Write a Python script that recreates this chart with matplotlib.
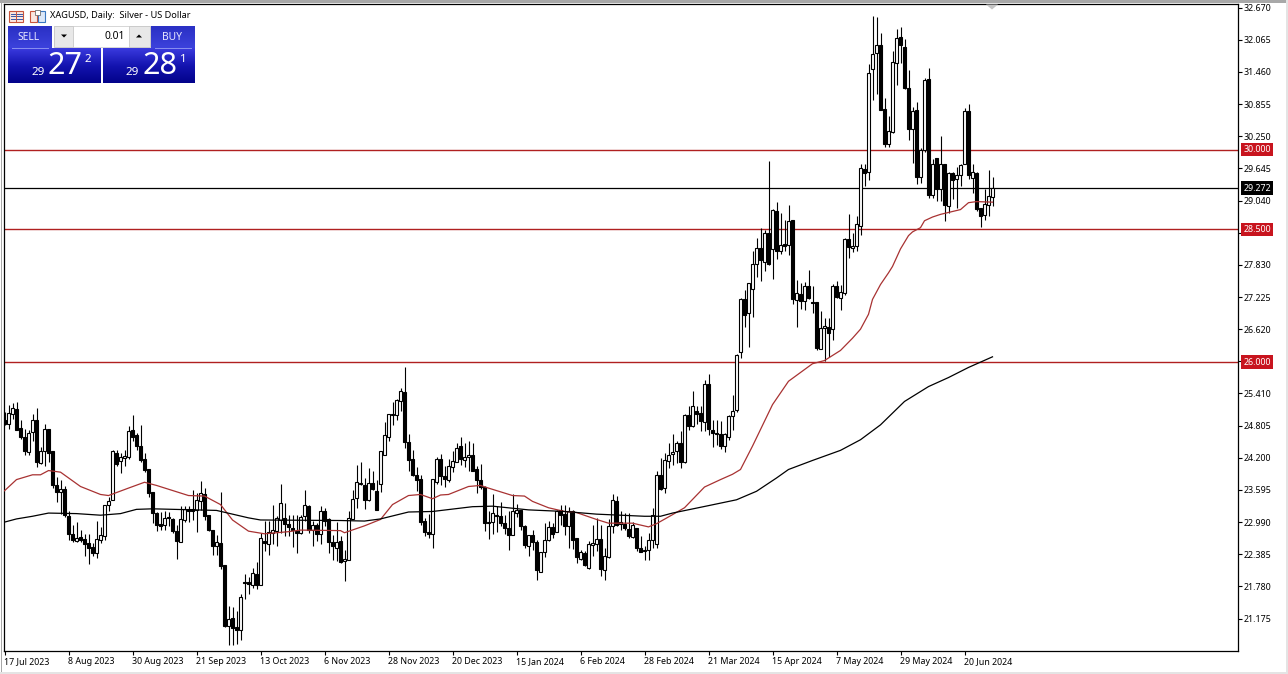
import numpy as np
import matplotlib
matplotlib.use('Agg')
import matplotlib.pyplot as plt
from matplotlib.patches import Rectangle, Polygon
from matplotlib.colors import LinearSegmentedColormap

plt.rcParams['font.family'] = ['Noto Sans', 'DejaVu Sans']

# daily candles, oldest first
opens = [
    24.92, 24.84, 25.03, 25.12, 24.76, 24.59, 24.31, 24.68, 24.92, 24.10,
    24.32, 24.74, 24.33, 23.69, 23.55, 23.61, 23.11, 22.76, 22.64, 22.71,
    22.68, 22.59, 22.52, 22.40, 22.66, 22.72, 23.31, 23.40, 24.29, 24.14,
    24.20, 24.21, 24.72, 24.62, 24.43, 24.17, 23.98, 23.55, 23.16, 22.96,
    22.93, 23.08, 23.05, 22.83, 22.62, 23.03, 23.24, 23.24, 23.21, 23.38,
    23.52, 23.12, 22.84, 22.54, 22.60, 22.18, 21.04, 21.18, 21.01, 20.96,
    21.87, 21.87, 21.80, 22.02, 21.80, 22.64, 22.57, 22.79, 22.83, 23.03,
    23.07, 22.96, 22.88, 22.83, 22.79, 23.11, 23.30, 22.84, 22.93, 22.77,
    23.19, 23.04, 22.62, 22.50, 22.63, 22.25, 22.28, 23.05, 23.45, 23.70,
    23.68, 23.41, 23.73, 23.58, 23.70, 24.26, 24.59, 25.00, 25.00, 25.26,
    25.44, 24.50, 24.17, 23.88, 23.80, 23.01, 22.80, 22.76, 23.75, 24.17,
    23.85, 23.78, 24.02, 24.13, 24.43, 24.16, 24.22, 24.25, 23.98, 23.78,
    23.65, 22.99, 22.99, 23.13, 23.11, 22.97, 22.88, 22.74, 23.17, 23.22,
    22.92, 22.54, 22.74, 22.61, 22.06, 22.42, 22.65, 22.89, 22.81, 23.21,
    23.15, 22.91, 23.19, 22.70, 22.30, 22.41, 22.13, 22.56, 22.58, 22.67,
    22.08, 22.33, 22.92, 23.39, 22.95, 22.96, 22.86, 22.71, 22.87, 22.50,
    22.47, 22.47, 22.65, 22.57, 23.87, 23.63, 24.14, 24.28, 24.32, 24.47,
    24.12, 25.00, 24.79, 25.08, 25.04, 24.87, 25.58, 24.73, 24.67, 24.64,
    24.42, 24.60, 24.98, 25.09, 26.19, 27.19, 26.93, 27.38, 27.84, 28.15,
    27.88, 28.43, 28.13, 28.85, 28.09, 28.22, 28.20, 28.68, 27.16, 27.29,
    27.15, 27.44, 27.14, 27.13, 26.25, 26.64, 26.66, 26.62, 27.43, 27.20,
    27.30, 28.31, 28.15, 28.18, 28.57, 29.63, 29.57, 31.52, 31.82, 31.97,
    30.76, 30.10, 30.33, 31.63, 32.11, 31.93, 31.16, 30.39, 30.75, 29.48,
    30.00, 31.33, 29.15, 29.84, 29.26, 29.72, 28.93, 29.55, 29.45, 29.52,
    29.73, 30.73, 29.47, 29.56, 28.90, 28.76, 28.95, 29.10,
]
closes = [
    24.84, 25.04, 25.14, 24.73, 24.59, 24.32, 24.67, 24.91, 24.12, 24.33,
    24.74, 24.29, 23.68, 23.55, 23.61, 23.13, 22.76, 22.65, 22.69, 22.66,
    22.57, 22.50, 22.40, 22.67, 22.75, 23.31, 23.39, 24.32, 24.09, 24.21,
    24.24, 24.71, 24.60, 24.42, 24.15, 23.97, 23.54, 23.16, 22.94, 22.91,
    23.07, 23.06, 22.82, 22.63, 23.04, 23.24, 23.19, 23.19, 23.40, 23.54,
    23.10, 22.84, 22.54, 22.62, 22.16, 21.03, 21.16, 20.99, 20.96, 21.58,
    21.84, 21.82, 22.04, 21.80, 22.69, 22.59, 22.81, 22.84, 23.07, 23.35,
    22.96, 22.89, 22.84, 22.79, 23.09, 23.31, 22.84, 22.94, 22.76, 23.20,
    23.01, 22.61, 22.54, 22.62, 22.24, 22.30, 23.07, 23.43, 23.75, 23.73,
    23.41, 23.73, 23.62, 23.21, 24.32, 24.63, 25.02, 25.02, 25.28, 25.46,
    24.49, 24.15, 23.88, 23.78, 22.99, 22.80, 22.76, 23.80, 24.18, 23.85,
    23.80, 24.05, 24.14, 24.39, 24.17, 24.22, 24.25, 23.96, 23.78, 23.65,
    22.97, 22.97, 23.17, 23.10, 22.97, 22.87, 22.74, 23.19, 23.21, 22.91,
    22.55, 22.74, 22.61, 22.08, 22.43, 22.65, 22.90, 22.77, 23.19, 23.13,
    22.92, 23.19, 22.66, 22.33, 22.43, 22.18, 22.58, 22.60, 22.68, 22.10,
    22.35, 22.92, 23.41, 22.94, 22.99, 22.87, 22.72, 22.94, 22.50, 22.43,
    22.45, 22.66, 23.13, 23.88, 23.62, 24.15, 24.26, 24.30, 24.47, 24.12,
    25.01, 24.79, 25.18, 25.02, 24.89, 25.58, 24.74, 24.66, 24.64, 24.43,
    24.65, 24.98, 25.08, 26.14, 27.19, 26.88, 27.48, 27.85, 28.15, 27.93,
    28.43, 27.85, 28.87, 28.09, 28.20, 28.19, 28.66, 27.18, 27.30, 27.15,
    27.44, 27.20, 27.12, 26.27, 26.64, 26.68, 26.54, 27.44, 27.22, 27.32,
    28.32, 28.17, 28.19, 28.60, 29.65, 29.56, 31.44, 31.80, 31.97, 30.75,
    30.11, 30.35, 31.65, 32.10, 31.96, 31.16, 30.39, 30.73, 29.48, 30.00,
    31.31, 29.15, 29.73, 29.26, 29.72, 28.95, 29.55, 29.43, 29.52, 29.71,
    30.73, 29.53, 29.57, 28.89, 28.74, 28.98, 29.12, 29.28,
]
highs = [
    25.06, 25.20, 25.23, 25.25, 24.91, 24.74, 24.72, 25.03, 25.14, 24.40,
    24.84, 24.74, 24.33, 23.84, 23.79, 23.66, 23.19, 22.94, 23.00, 22.85,
    22.76, 22.76, 22.60, 23.02, 22.90, 23.31, 23.46, 24.35, 24.35, 24.29,
    24.35, 24.79, 25.01, 24.67, 24.82, 24.29, 23.98, 23.55, 23.18, 23.18,
    23.19, 23.18, 23.07, 22.94, 23.29, 23.29, 23.30, 23.60, 23.54, 23.77,
    23.63, 23.12, 22.84, 22.74, 23.56, 22.18, 21.41, 21.40, 21.31, 21.63,
    22.02, 21.96, 22.13, 22.24, 22.79, 23.01, 23.01, 23.31, 23.10, 23.70,
    23.35, 23.13, 23.13, 23.13, 23.13, 23.60, 23.32, 23.01, 22.97, 23.29,
    23.26, 23.07, 22.75, 23.00, 22.72, 22.47, 23.19, 23.60, 24.06, 24.13,
    23.82, 24.01, 23.95, 23.79, 24.32, 24.87, 25.02, 25.25, 25.30, 25.51,
    25.91, 24.64, 24.35, 24.03, 23.88, 23.07, 23.14, 23.80, 24.22, 24.27,
    24.05, 24.17, 24.32, 24.47, 24.59, 24.48, 24.51, 24.48, 24.04, 24.08,
    23.66, 23.19, 23.51, 23.29, 23.37, 23.13, 23.19, 23.51, 23.34, 23.22,
    22.93, 22.75, 22.85, 22.65, 22.43, 22.97, 23.02, 22.97, 23.22, 23.32,
    23.31, 23.27, 23.22, 22.70, 22.47, 22.44, 22.63, 22.94, 23.07, 22.93,
    22.50, 23.04, 23.51, 23.48, 23.19, 23.17, 23.16, 23.00, 22.87, 22.72,
    22.54, 22.79, 23.26, 23.95, 24.20, 24.29, 24.48, 24.64, 24.51, 24.70,
    25.03, 25.17, 25.45, 25.17, 25.17, 25.66, 25.77, 24.92, 24.91, 24.89,
    24.67, 25.01, 25.39, 26.16, 27.21, 27.36, 27.49, 28.10, 28.34, 28.52,
    28.49, 29.79, 28.88, 29.01, 28.81, 28.68, 28.95, 28.68, 27.54, 27.49,
    27.50, 27.74, 27.43, 27.13, 26.96, 26.83, 26.83, 27.47, 27.52, 27.46,
    28.34, 28.78, 28.43, 28.74, 29.72, 29.73, 31.60, 32.52, 32.49, 32.19,
    30.97, 30.63, 31.85, 32.26, 32.31, 32.08, 31.50, 30.80, 30.89, 30.03,
    31.35, 31.53, 29.82, 29.84, 30.26, 29.72, 29.57, 29.57, 29.67, 29.72,
    30.78, 30.86, 29.73, 29.57, 28.90, 29.26, 29.62, 29.48,
]
lows = [
    24.82, 24.74, 24.93, 24.72, 24.56, 24.25, 24.26, 24.51, 24.02, 24.09,
    24.04, 24.12, 23.63, 23.36, 23.14, 23.09, 22.65, 22.61, 22.61, 22.61,
    22.35, 22.21, 22.35, 22.32, 22.60, 22.65, 23.20, 23.40, 24.04, 23.92,
    24.04, 24.17, 24.51, 24.35, 24.13, 23.94, 23.46, 22.97, 22.82, 22.84,
    22.85, 22.91, 22.79, 22.29, 22.61, 22.99, 23.00, 23.03, 22.80, 23.21,
    23.03, 22.83, 22.38, 22.38, 22.11, 21.02, 20.67, 20.67, 20.69, 20.77,
    21.55, 21.63, 21.75, 21.74, 21.80, 22.45, 22.37, 22.57, 22.54, 22.79,
    22.72, 22.72, 22.52, 22.41, 22.76, 23.01, 22.79, 22.54, 22.63, 22.57,
    22.91, 22.41, 22.28, 22.25, 22.22, 21.88, 22.27, 23.04, 23.26, 23.68,
    23.23, 23.39, 23.59, 23.21, 23.56, 24.25, 24.52, 24.82, 24.92, 25.08,
    24.38, 23.95, 23.85, 23.57, 22.93, 22.72, 22.69, 22.50, 23.71, 23.68,
    23.65, 23.75, 23.93, 24.12, 24.07, 24.03, 23.95, 23.95, 23.54, 23.62,
    22.82, 22.68, 22.77, 22.80, 22.91, 22.77, 22.46, 22.74, 23.09, 22.85,
    22.50, 22.36, 22.46, 21.91, 22.05, 22.33, 22.63, 22.69, 22.80, 22.94,
    22.75, 22.50, 22.49, 22.22, 22.27, 22.17, 22.11, 22.35, 22.44, 21.97,
    21.91, 22.32, 22.79, 22.91, 22.85, 22.85, 22.70, 22.69, 22.44, 22.42,
    22.27, 22.28, 22.50, 22.50, 23.60, 23.54, 24.01, 24.07, 24.10, 24.00,
    24.10, 24.73, 24.78, 24.84, 24.70, 24.70, 24.62, 24.40, 24.45, 24.37,
    24.30, 24.54, 24.73, 25.06, 26.08, 26.66, 26.28, 26.84, 27.60, 27.52,
    27.71, 27.83, 27.57, 27.94, 28.04, 28.09, 28.02, 27.10, 26.66, 27.00,
    26.98, 27.18, 26.93, 26.22, 26.24, 26.02, 26.10, 26.41, 27.20, 26.99,
    27.27, 27.96, 28.07, 28.09, 28.40, 29.31, 29.43, 30.93, 31.05, 30.74,
    30.04, 30.04, 30.32, 31.22, 31.63, 31.14, 30.17, 29.75, 29.36, 29.37,
    29.95, 29.09, 29.09, 29.03, 29.03, 28.65, 28.81, 29.06, 28.90, 29.32,
    29.72, 29.45, 29.18, 28.84, 28.54, 28.68, 28.74, 28.93,
]

# moving averages, read at the bars where the curves bend
red_ma_bars = [0, 3, 7, 9, 11, 14, 19, 24, 26, 31, 35, 38, 46, 50, 54, 57, 61, 65, 71, 74,
               84, 85, 90, 94, 97, 101, 104, 107, 109, 111, 116, 119, 121, 127, 130, 132,
               136, 140, 143, 148, 151, 157, 161, 163, 167, 170, 175, 179, 182, 184, 187,
               192, 196, 202, 205, 209, 212, 214, 216, 217, 219, 221, 222, 224, 226, 227,
               229, 230, 232, 234, 239, 241, 243, 247]
red_ma_vals = [23.58, 23.79, 23.88, 23.88, 23.96, 23.93, 23.66, 23.51, 23.49, 23.63, 23.74,
               23.68, 23.49, 23.48, 23.32, 23.03, 22.82, 22.77, 22.81, 22.84, 22.83, 22.79,
               22.92, 23.04, 23.32, 23.49, 23.51, 23.43, 23.50, 23.51, 23.66, 23.68, 23.63,
               23.49, 23.48, 23.38, 23.26, 23.19, 23.17, 23.04, 22.97, 22.97, 22.90, 22.96,
               23.13, 23.26, 23.65, 23.79, 23.89, 23.98, 24.42, 25.20, 25.64, 25.97, 26.03,
               26.22, 26.45, 26.62, 26.90, 27.18, 27.46, 27.68, 27.80, 28.13, 28.38, 28.45,
               28.53, 28.66, 28.73, 28.78, 28.87, 29.00, 29.02, 29.01]
black_ma_bars = [0, 3, 7, 11, 18, 24, 29, 33, 37, 53, 57, 61, 64, 84, 90, 94, 101, 107, 117,
                 122, 131, 140, 148, 160, 164, 167, 176, 183, 188, 193, 196, 202, 209, 214,
                 219, 225, 231, 236, 241, 247]
black_ma_vals = [22.99, 23.05, 23.10, 23.16, 23.15, 23.12, 23.15, 23.23, 23.24, 23.21, 23.14,
                 23.07, 23.03, 23.02, 23.01, 23.05, 23.18, 23.19, 23.28, 23.29, 23.22, 23.19,
                 23.14, 23.10, 23.10, 23.16, 23.30, 23.41, 23.57, 23.82, 23.98, 24.15, 24.34,
                 24.54, 24.82, 25.26, 25.54, 25.71, 25.90, 26.10]

support_levels = [30.0, 28.5, 26.0]
last_price = 29.272

price_ticks = [32.670, 32.065, 31.460, 30.855, 30.250, 29.645, 29.040, 28.435, 27.830, 27.225,
               26.620, 26.015, 25.410, 24.805, 24.200, 23.595, 22.990, 22.385, 21.780, 21.175]
date_bars = [0, 16, 32, 48, 64, 80, 96, 112, 128, 144, 160, 176, 192, 208, 224, 240]
date_labels = ['17 Jul 2023', '8 Aug 2023', '30 Aug 2023', '21 Sep 2023', '13 Oct 2023',
               '6 Nov 2023', '28 Nov 2023', '20 Dec 2023', '15 Jan 2024', '6 Feb 2024',
               '28 Feb 2024', '21 Mar 2024', '15 Apr 2024', '7 May 2024', '29 May 2024',
               '20 Jun 2024']

W, H = 1288, 674
fig = plt.figure(figsize=(W / 100, H / 100), dpi=100, facecolor='white')

# chart area sits at x 4..1238, y 4..651 in pixels
ax = fig.add_axes([4 / W, 1 - 651 / H, 1234 / W, 647 / H])
ax.set_xlim(-0.125, 308.375)
ax.set_ylim(20.565, 32.738)

bars = np.arange(len(opens))
opens = np.array(opens)
closes = np.array(closes)
up = closes >= opens

# wicks first so the white bodies cover them
ax.vlines(bars, lows, highs, color='black', linewidth=0.8, zorder=3)
ax.bar(bars[up], (closes - opens)[up], bottom=opens[up], width=0.58, facecolor='white',
       edgecolor='black', linewidth=0.8, zorder=3.1)
ax.bar(bars[~up], (opens - closes)[~up], bottom=closes[~up], width=0.58, facecolor='black',
       edgecolor='black', linewidth=0.8, zorder=3.1)

ax.plot(red_ma_bars, red_ma_vals, color='#a83232', linewidth=0.9, zorder=4)
ax.plot(black_ma_bars, black_ma_vals, color='black', linewidth=0.9, zorder=4)

for level in support_levels:
    ax.axhline(level, color='#b02020', linewidth=1.0, zorder=2)
ax.axhline(last_price, color='black', linewidth=0.9, zorder=2)

ax.yaxis.tick_right()
ax.set_yticks(price_ticks)
ax.set_yticklabels(['%.3f' % p for p in price_ticks])
ax.set_xticks(date_bars)
ax.set_xticklabels(date_labels, ha='left')
ax.tick_params(axis='y', length=3, width=0.8, pad=1, labelsize=6.4)
ax.tick_params(axis='x', length=3, width=0.8, pad=1.5, labelsize=6.4)
for spine in ax.spines.values():
    spine.set_linewidth(0.9)

# price tags on the right scale
tag_trans = ax.get_yaxis_transform()
for level in support_levels:
    ax.text(1.0154, level, '%.3f' % level, transform=tag_trans, ha='center', va='center',
            fontsize=6.4, color='white', clip_on=False, zorder=6,
            bbox=dict(facecolor='#c8141e', edgecolor='none', pad=1.6))
ax.text(1.0154, last_price, '%.3f' % last_price, transform=tag_trans, ha='center', va='center',
        fontsize=6.4, color='white', clip_on=False, zorder=6,
        bbox=dict(facecolor='black', edgecolor='none', pad=1.6))

# overlay in pixel coordinates for the terminal panel and window frame
ui = fig.add_axes([0, 0, 1, 1], zorder=10)
ui.axis('off')
ui.patch.set_alpha(0)

sell_cmap = LinearSegmentedColormap.from_list('btn', ['#2a30c4', '#3c42dc'])
price_cmap = LinearSegmentedColormap.from_list('price', ['#3a3ade', '#1414b0', '#02028a'])
grad = np.linspace(0, 1, 64).reshape(-1, 1)


def gradient_box(x0, y0, x1, y1, cmap):
    ui.imshow(grad, extent=[x0, x1, y1, y0], cmap=cmap, aspect='auto', zorder=1)


# window frame
ui.add_patch(Rectangle((0, 0), W, 2.5, facecolor='#a8a8a8', edgecolor='none'))
ui.add_patch(Rectangle((0.5, 0), 2, H, facecolor='#a8a8a8', edgecolor='none'))
ui.add_patch(Rectangle((0, H - 2), W, 2, facecolor='#e4e4e4', edgecolor='none'))
ui.add_patch(Rectangle((W - 2, 0), 2, H, facecolor='#e4e4e4', edgecolor='none'))
ui.add_patch(Polygon([[986, 4.5], [998, 4.5], [992, 9.5]], closed=True, facecolor='#c4c4c4',
                     edgecolor='none'))

# small toolbar icons
ui.add_patch(Rectangle((9.5, 10.5), 14, 11, facecolor='#fbe6e0', edgecolor='#c8553c', linewidth=0.8))
for yy in (13.5, 16, 18.5):
    ui.plot([11, 22], [yy, yy], color='#3858a8', linewidth=0.7)
ui.plot([16.5, 16.5], [11, 21], color='#c8553c', linewidth=0.7)
ui.add_patch(Rectangle((30.5, 10.5), 7, 11, facecolor='#fbe6e0', edgecolor='#c8553c', linewidth=0.8))
ui.add_patch(Rectangle((38, 10.5), 7, 11, facecolor='#dce8f8', edgecolor='#3a78c0', linewidth=0.8))
ui.add_patch(Rectangle((35, 10), 5, 5, facecolor='white', edgecolor='#707070', linewidth=0.6))

ui.text(50, 15.5, 'XAGUSD, Daily:  Silver - US Dollar', fontsize=6.6, color='black',
        ha='left', va='center')

# one click trading panel
gradient_box(8, 26, 52, 48, sell_cmap)
gradient_box(151, 26, 195, 48, sell_cmap)
gradient_box(8, 48, 101, 83, price_cmap)
gradient_box(103, 48, 195, 83, price_cmap)
ui.plot([12, 48], [47.5, 47.5], color='#8a90f0', linewidth=0.7, zorder=2)
ui.plot([155, 191], [47.5, 47.5], color='#8a90f0', linewidth=0.7, zorder=2)
ui.text(29, 37, 'SELL', fontsize=7.4, color='#e8e8ff', ha='center', va='center', zorder=3)
ui.text(172, 37, 'BUY', fontsize=7.4, color='#e8e8ff', ha='center', va='center', zorder=3)

ui.add_patch(Rectangle((54, 26), 96, 21, facecolor='white', edgecolor='#d0d0d0', linewidth=0.6, zorder=2))
ui.add_patch(Rectangle((54, 26), 19, 21, facecolor='#e8e8e8', edgecolor='#c8c8c8', linewidth=0.6, zorder=2))
ui.add_patch(Rectangle((129, 26), 21, 21, facecolor='#e8e8e8', edgecolor='#c8c8c8', linewidth=0.6, zorder=2))
ui.add_patch(Polygon([[61, 34.5], [67, 34.5], [64, 37.5]], closed=True, facecolor='black', edgecolor='none', zorder=3))
ui.add_patch(Polygon([[136, 37.5], [142, 37.5], [139, 34.5]], closed=True, facecolor='black', edgecolor='none', zorder=3))
ui.text(125, 36.5, '0.01', fontsize=7.4, color='black', ha='right', va='center', zorder=3)

ui.text(38, 72.5, '29', fontsize=8.4, color='white', fontweight='bold', ha='center', va='center', zorder=3)
ui.text(65, 66, '27', fontsize=22, color='white', ha='center', va='center', zorder=3)
ui.text(88, 59.5, '2', fontsize=8.4, color='white', fontweight='bold', ha='center', va='center', zorder=3)
ui.text(132, 72.5, '29', fontsize=8.4, color='white', fontweight='bold', ha='center', va='center', zorder=3)
ui.text(160, 66, '28', fontsize=22, color='white', ha='center', va='center', zorder=3)
ui.text(183, 59.5, '1', fontsize=8.4, color='white', fontweight='bold', ha='center', va='center', zorder=3)

ui.set_xlim(0, W)
ui.set_ylim(H, 0)

fig.savefig('out.png', dpi=100)
